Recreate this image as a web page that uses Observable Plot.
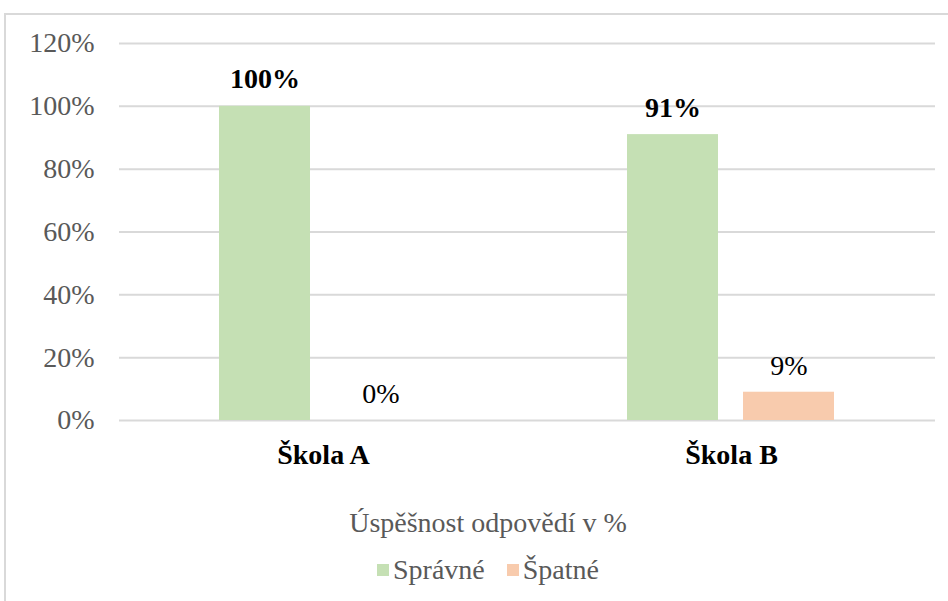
<!DOCTYPE html>
<html><head><meta charset="utf-8">
<script src="https://cdn.jsdelivr.net/npm/d3@7"></script>
<script src="https://cdn.jsdelivr.net/npm/@observablehq/plot@0.6"></script>
<style>
body{margin:0;background:#fff;font-family:"Liberation Serif","Times New Roman",serif;}
#wrap{position:relative;width:948px;height:601px;overflow:hidden;}
#frame{position:absolute;left:4px;top:13px;width:968px;height:700px;border:2px solid #d9d9d9;box-sizing:border-box;}
#chart{position:absolute;left:0;top:0;}
#chart text{font-family:"Liberation Serif","Times New Roman",serif !important;}
#title{position:absolute;left:4px;width:968px;top:505px;text-align:center;font-size:28px;color:#595959;line-height:36px;}
#legend{position:absolute;left:4px;width:968px;top:552px;display:flex;justify-content:center;}
#legend, #legend *{font-family:"Liberation Serif","Times New Roman",serif !important;}
.lg-swatches{font-size:28px !important;color:#595959 !important;margin:0 !important;min-height:36px !important;}
.lg-swatch{margin-right:22px !important;}
.lg-swatch:last-child{margin-right:0 !important;}
.lg-swatch > svg{margin-right:4px !important;}
</style>
</head><body>
<div id="wrap">
  <div id="frame"></div>
  <div id="chart"></div>
  <div id="title"></div>
  <div id="legend"></div>
</div>
<script>
const schools = ["Škola A", "Škola B"];
const series = ["Správné", "Špatné"];
const spravne = [1.00, 0.91];
const spatne = [0.00, 0.09];
const colors = ["#C5E0B4", "#F8CBAD"];
const yTicks = [0, 0.2, 0.4, 0.6, 0.8, 1.0, 1.2];
const legendTitle = "Úspěšnost odpovědí v %";

const data = schools.flatMap((s, i) => [
  {school: s, series: series[0], value: spravne[i]},
  {school: s, series: series[1], value: spatne[i]}
]);
const fmt = d => Math.round(d * 100) + "%";
const font = "'Liberation Serif', 'Times New Roman', serif";

const chart = Plot.plot({
  width: 948, height: 480,
  marginLeft: 119, marginRight: 13, marginTop: 43, marginBottom: 60,
  style: {fontFamily: font, fontSize: "28px", background: "transparent", overflow: "visible"},
  fx: {domain: schools, padding: 0, label: null},
  x: {domain: series, paddingInner: 0.2155, paddingOuter: 0.866, axis: null},
  y: {domain: [0, 1.2], ticks: yTicks, label: null, axis: null},
  color: {domain: series, range: colors},
  marks: [
    Plot.gridY(yTicks, {stroke: "#d9d9d9", strokeOpacity: 1, strokeWidth: 2}),
    Plot.barY(data, {fx: "school", x: "series", y: "value", fill: "series"}),
    Plot.text(data.filter(d => d.series === series[0]), {
      fx: "school", x: "series", y: "value", text: d => fmt(d.value),
      dy: -27, fontWeight: "bold", fontSize: 28, fill: "#000", fontFamily: font
    }),
    Plot.text(data.filter(d => d.series === series[1]), {
      fx: "school", x: "series", y: "value", text: d => fmt(d.value),
      dy: -26, fontSize: 28, fill: "#000", fontFamily: font
    }),
    Plot.axisY(yTicks, {tickSize: 0, tickPadding: 25, tickFormat: fmt, fontSize: 28, color: "#595959", label: null, fontFamily: font}),
    Plot.axisFx({anchor: "bottom", tickSize: 0, tickPadding: 24, fontSize: 28, fontWeight: "bold", color: "#000", label: null, fontFamily: font})
  ]
});
document.getElementById("chart").appendChild(chart);
document.getElementById("title").textContent = legendTitle;

const leg = Plot.legend({
  color: {type: "ordinal", domain: series, range: colors},
  swatchSize: 12, className: "lg"
});
document.getElementById("legend").appendChild(leg);
</script>
</body></html>
